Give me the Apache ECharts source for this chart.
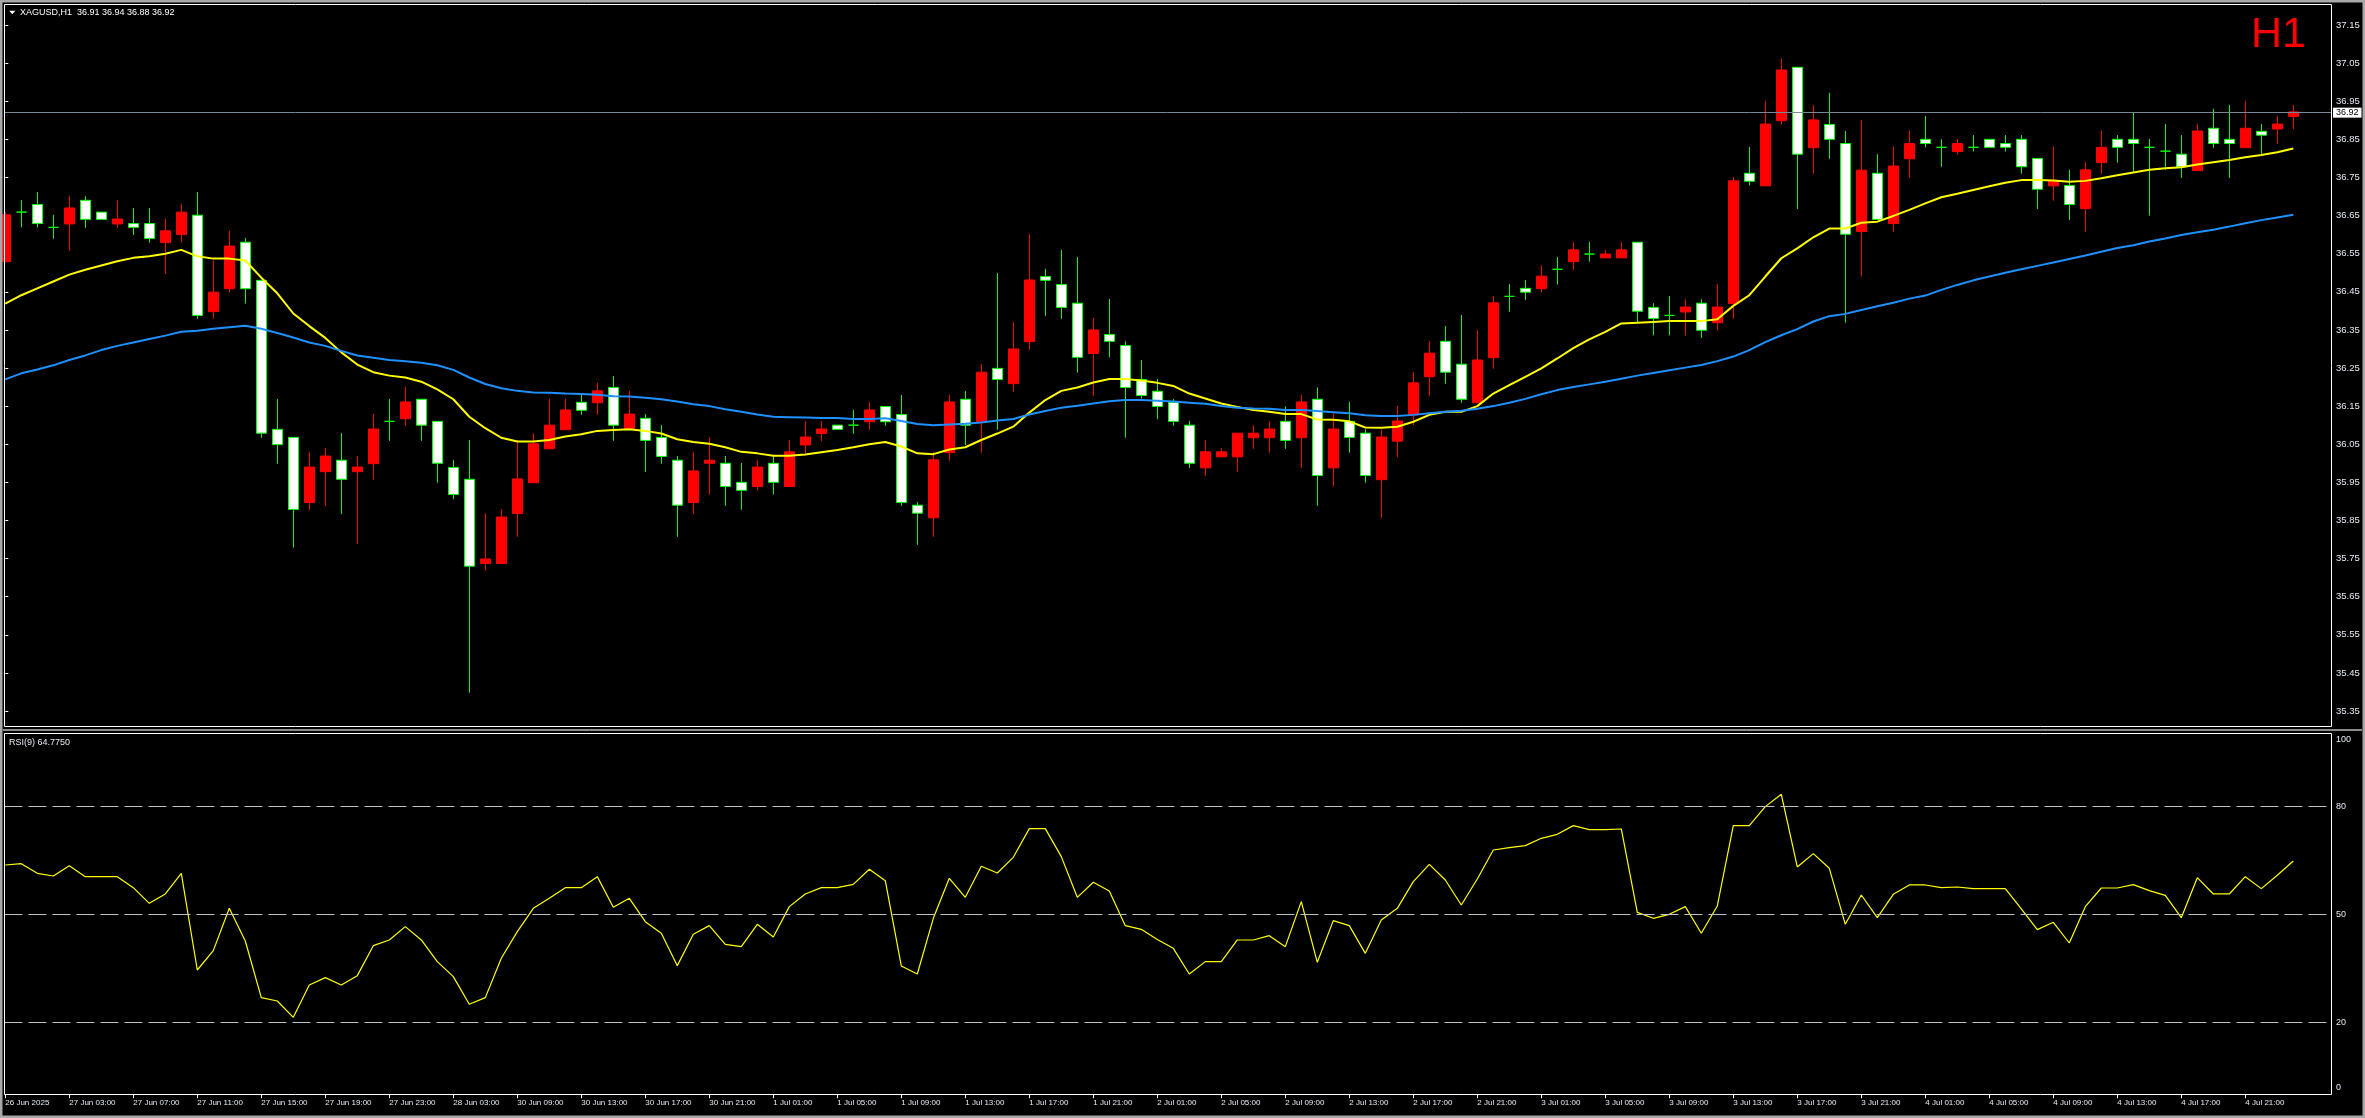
<!DOCTYPE html>
<html><head><meta charset="utf-8">
<script src="https://cdn.jsdelivr.net/npm/echarts@6/dist/echarts.min.js"></script>
<style>html,body{margin:0;padding:0;background:#000;overflow:hidden}#c{width:2365px;height:1118px}</style>
</head><body><div id="c"></div>
<script>
const symbolName = 'XAGUSD,H1';
const timeframeLabel = 'H1';
const rsiName = 'RSI(9)';

const tickLabels = ['26 Jun 2025','27 Jun 03:00','27 Jun 07:00','27 Jun 11:00','27 Jun 15:00','27 Jun 19:00','27 Jun 23:00','28 Jun 03:00','30 Jun 09:00','30 Jun 13:00','30 Jun 17:00','30 Jun 21:00','1 Jul 01:00','1 Jul 05:00','1 Jul 09:00','1 Jul 13:00','1 Jul 17:00','1 Jul 21:00','2 Jul 01:00','2 Jul 05:00','2 Jul 09:00','2 Jul 13:00','2 Jul 17:00','2 Jul 21:00','3 Jul 01:00','3 Jul 05:00','3 Jul 09:00','3 Jul 13:00','3 Jul 17:00','3 Jul 21:00','4 Jul 01:00','4 Jul 05:00','4 Jul 09:00','4 Jul 13:00','4 Jul 17:00','4 Jul 21:00'];
const tickEvery = 4;

const opens = [36.529,36.659,36.679,36.619,36.628,36.690,36.659,36.628,36.629,36.629,
 36.579,36.600,36.651,36.398,36.458,36.580,36.480,36.089,36.068,35.897,
 35.978,36.008,35.978,35.999,36.110,36.117,36.168,36.110,35.989,35.958,
 35.737,35.737,35.868,35.949,36.038,36.088,36.160,36.159,36.199,36.089,
 36.118,36.068,36.008,35.897,36.000,36.000,35.950,35.939,36.000,35.939,
 36.048,36.078,36.100,36.100,36.109,36.149,36.128,35.890,35.857,36.028,
 36.168,36.109,36.249,36.209,36.319,36.490,36.469,36.420,36.288,36.338,
 36.309,36.220,36.189,36.160,36.100,35.988,36.017,36.017,36.067,36.067,
 36.110,36.067,36.168,35.988,36.110,36.079,35.957,36.058,36.127,36.227,
 36.320,36.260,36.159,36.277,36.438,36.459,36.458,36.509,36.529,36.549,
 36.539,36.539,36.580,36.409,36.388,36.397,36.420,36.369,36.419,36.761,
 36.728,36.899,37.039,36.828,36.889,36.839,36.608,36.761,36.629,36.799,
 36.850,36.829,36.818,36.829,36.850,36.839,36.850,36.800,36.728,36.729,
 36.668,36.789,36.850,36.850,36.829,36.819,36.811,36.768,36.879,36.850,
 36.828,36.871,36.877,36.910];
const highs = [36.659,36.690,36.712,36.652,36.701,36.701,36.659,36.690,36.670,36.670,
 36.641,36.680,36.712,36.532,36.610,36.591,36.480,36.169,36.068,36.030,
 36.040,36.079,36.019,36.129,36.169,36.200,36.168,36.110,36.008,36.061,
 35.869,35.880,36.061,36.079,36.169,36.169,36.179,36.211,36.229,36.190,
 36.129,36.100,36.019,36.030,36.069,36.019,36.001,36.008,36.019,36.061,
 36.111,36.111,36.100,36.140,36.161,36.149,36.179,35.898,36.029,36.179,
 36.190,36.260,36.499,36.371,36.602,36.510,36.560,36.541,36.381,36.431,
 36.320,36.271,36.221,36.169,36.111,36.061,36.040,36.079,36.100,36.111,
 36.149,36.179,36.199,36.131,36.161,36.089,36.089,36.150,36.239,36.321,
 36.360,36.389,36.350,36.439,36.470,36.481,36.520,36.541,36.581,36.581,
 36.560,36.581,36.580,36.420,36.439,36.430,36.430,36.470,36.751,36.830,
 36.951,37.061,37.039,36.940,36.972,36.872,36.901,36.811,36.830,36.872,
 36.911,36.850,36.851,36.861,36.850,36.861,36.861,36.800,36.830,36.770,
 36.791,36.872,36.861,36.921,36.851,36.890,36.861,36.890,36.930,36.940,
 36.951,36.890,36.911,36.940];
const lows = [36.527,36.619,36.619,36.589,36.557,36.618,36.640,36.618,36.599,36.579,
 36.497,36.579,36.379,36.379,36.448,36.419,36.067,35.999,35.779,35.878,
 35.889,35.867,35.788,35.957,36.059,36.099,36.059,35.949,35.906,35.398,
 35.718,35.737,35.807,35.949,36.038,36.088,36.127,36.127,36.059,36.089,
 35.977,35.999,35.807,35.868,35.917,35.889,35.878,35.928,35.918,35.939,
 36.026,36.058,36.089,36.078,36.088,36.099,35.889,35.786,35.807,36.007,
 36.048,36.028,36.088,36.188,36.298,36.387,36.379,36.238,36.177,36.278,
 36.067,36.170,36.116,36.099,35.988,35.967,36.017,35.978,36.038,36.028,
 36.038,35.988,35.889,35.939,36.028,35.949,35.857,36.016,36.100,36.176,
 36.209,36.159,36.159,36.248,36.398,36.429,36.448,36.469,36.507,36.529,
 36.539,36.539,36.369,36.336,36.336,36.336,36.329,36.348,36.379,36.729,
 36.728,36.888,36.667,36.760,36.799,36.369,36.490,36.640,36.608,36.749,
 36.829,36.778,36.809,36.818,36.829,36.818,36.760,36.667,36.689,36.638,
 36.608,36.759,36.789,36.765,36.650,36.770,36.749,36.768,36.828,36.749,
 36.828,36.809,36.839,36.877];
const closes = [36.652,36.659,36.629,36.619,36.670,36.640,36.640,36.641,36.619,36.590,
 36.610,36.659,36.388,36.449,36.570,36.458,36.079,36.049,35.879,35.990,
 36.019,35.958,35.990,36.090,36.110,36.161,36.100,36.000,35.918,35.730,
 35.749,35.859,35.959,36.051,36.100,36.140,36.139,36.190,36.100,36.129,
 36.060,36.018,35.890,35.980,36.008,35.939,35.929,35.990,35.950,36.030,
 36.069,36.090,36.089,36.100,36.140,36.109,35.897,35.869,36.009,36.161,
 36.100,36.239,36.220,36.300,36.481,36.480,36.409,36.278,36.350,36.320,
 36.199,36.178,36.149,36.110,36.000,36.030,36.030,36.079,36.079,36.090,
 36.060,36.161,35.968,36.090,36.068,35.968,36.069,36.111,36.211,36.289,
 36.239,36.168,36.271,36.421,36.438,36.449,36.491,36.509,36.560,36.549,
 36.549,36.560,36.399,36.380,36.388,36.410,36.349,36.410,36.741,36.740,
 36.890,37.032,36.811,36.901,36.850,36.601,36.769,36.640,36.780,36.839,
 36.839,36.829,36.839,36.829,36.829,36.829,36.778,36.719,36.742,36.679,
 36.770,36.829,36.829,36.839,36.829,36.819,36.778,36.872,36.839,36.839,
 36.879,36.861,36.890,36.922];

const maFast = [36.419,36.441,36.459,36.477,36.495,36.508,36.519,36.530,36.539,36.543,
 36.550,36.560,36.543,36.537,36.537,36.532,36.487,36.446,36.393,36.360,
 36.329,36.291,36.259,36.239,36.230,36.225,36.214,36.194,36.168,36.122,
 36.092,36.067,36.057,36.057,36.061,36.070,36.076,36.085,36.087,36.089,
 36.085,36.078,36.063,36.056,36.051,36.042,36.030,36.026,36.020,36.020,
 36.023,36.029,36.035,36.042,36.050,36.056,36.044,36.026,36.024,36.036,
 36.042,36.061,36.078,36.096,36.133,36.166,36.190,36.199,36.212,36.221,
 36.221,36.217,36.211,36.203,36.183,36.170,36.157,36.148,36.140,36.135,
 36.129,36.129,36.115,36.114,36.110,36.094,36.093,36.096,36.109,36.127,
 36.135,36.135,36.150,36.183,36.205,36.227,36.249,36.275,36.302,36.325,
 36.345,36.367,36.369,36.371,36.373,36.373,36.373,36.378,36.413,36.441,
 36.490,36.538,36.564,36.593,36.616,36.616,36.631,36.634,36.649,36.665,
 36.682,36.698,36.707,36.717,36.727,36.736,36.743,36.743,36.742,36.739,
 36.741,36.748,36.756,36.763,36.770,36.774,36.777,36.784,36.790,36.796,
 36.803,36.809,36.816,36.826];
const maSlow = [36.220,36.236,36.246,36.257,36.271,36.283,36.297,36.308,36.317,36.326,
 36.335,36.345,36.348,36.353,36.357,36.361,36.353,36.342,36.330,36.317,
 36.308,36.295,36.283,36.277,36.271,36.268,36.264,36.257,36.245,36.225,
 36.208,36.197,36.190,36.186,36.185,36.183,36.182,36.180,36.176,36.175,
 36.172,36.168,36.162,36.155,36.150,36.142,36.135,36.128,36.122,36.121,
 36.120,36.119,36.119,36.116,36.116,36.118,36.111,36.103,36.100,36.102,
 36.104,36.107,36.112,36.116,36.128,36.137,36.146,36.151,36.157,36.163,
 36.166,36.166,36.164,36.162,36.159,36.156,36.150,36.146,36.144,36.143,
 36.140,36.140,36.137,36.134,36.131,36.126,36.124,36.124,36.127,36.131,
 36.135,36.138,36.143,36.150,36.159,36.169,36.181,36.192,36.200,36.207,
 36.214,36.222,36.230,36.237,36.244,36.251,36.258,36.268,36.280,36.297,
 36.318,36.336,36.352,36.372,36.386,36.392,36.402,36.412,36.421,36.432,
 36.440,36.455,36.468,36.480,36.490,36.500,36.509,36.518,36.527,36.536,
 36.545,36.555,36.565,36.572,36.582,36.590,36.599,36.606,36.613,36.621,
 36.630,36.638,36.645,36.652];
const rsiValues = [63.67,64.04,61.36,60.62,63.49,60.43,60.43,60.43,57.38,53.02,
 55.62,61.36,34.50,39.88,51.63,42.56,26.82,25.89,21.36,30.34,
 32.37,30.34,32.93,41.26,42.84,46.54,42.84,36.82,32.65,24.97,
 26.82,37.75,45.15,51.63,54.41,57.38,57.38,60.43,51.91,54.41,
 47.93,44.69,35.71,44.41,46.82,41.63,40.99,47.19,43.67,52.10,
 55.62,57.38,57.38,58.30,62.47,59.32,35.62,33.39,48.86,59.97,
 54.69,63.30,61.45,65.80,73.76,73.76,65.99,54.69,58.86,56.45,
 46.82,45.80,43.00,40.52,33.39,36.82,36.82,42.84,42.84,44.04,
 40.99,53.49,36.63,48.21,46.82,39.13,48.39,51.63,59.04,63.86,
 59.50,52.56,59.78,67.84,68.49,69.04,71.08,72.19,74.60,73.49,
 73.49,73.67,50.52,48.86,49.97,52.10,44.69,52.28,74.60,74.60,
 79.88,83.30,63.12,66.82,62.75,47.19,55.34,49.04,55.52,58.12,
 58.12,57.38,57.56,57.10,57.10,57.10,51.45,45.71,47.75,42.00,
 52.10,57.28,57.28,58.21,56.54,55.25,49.04,60.15,55.62,55.62,
 60.43,57.10,60.80,64.775];

const priceTicks = [35.35,35.45,35.55,35.65,35.75,35.85,35.95,36.05,36.15,36.25,36.35,36.45,36.55,36.65,36.75,36.85,36.95,37.05,37.15];
const rsiTicks = [20,50,80];
const rsiLevels = [20,50,80];
const rsiEdgeLabels = ['100','0'];

// ---- layout (pixels) ----
const PLOT_L = 4.5, PLOT_R = 2331, BAR_STEP = 16, FIRST_BAR_X = 5.3;
const X_MIN = -(FIRST_BAR_X - PLOT_L) / BAR_STEP;
const X_MAX = X_MIN + (PLOT_R - PLOT_L) / BAR_STEP;
const MAIN_TOP = 4.5, MAIN_H = 722, PX_PER_UNIT = 381.11, Y_REF = 37.15, Y_REF_PX = 25;
const Y_MAX = Y_REF + (Y_REF_PX - MAIN_TOP) / PX_PER_UNIT;
const Y_MIN = Y_MAX - MAIN_H / PX_PER_UNIT;
const RSI_TOP = 734.2, RSI_H = 360;

const FONT = 'Liberation Sans, Arial, sans-serif';
const LABEL_COLOR = '#e4eaf4';
const n = closes.length;
const last = n - 1;

const candleData = opens.map((o, i) => {
  const item = { value: [i, o, closes[i], lows[i], highs[i]] };
  if (o === closes[i]) item.itemStyle = { color: '#00ff00', color0: '#00ff00', borderColor: '#00ff00', borderColor0: '#00ff00' };
  return item;
});
const tickPositions = tickLabels.map((_, k) => k * tickEvery);

const chart = echarts.init(document.getElementById('c'), null, { renderer: 'canvas' });
chart.setOption({
  backgroundColor: '#000000',
  animation: false,
  grid: [
    { left: PLOT_L, top: MAIN_TOP, width: PLOT_R - PLOT_L, height: MAIN_H },
    { left: PLOT_L, top: RSI_TOP, width: PLOT_R - PLOT_L, height: RSI_H }
  ],
  xAxis: [
    { gridIndex: 0, type: 'value', min: X_MIN, max: X_MAX, show: false },
    { gridIndex: 1, type: 'value', min: X_MIN, max: X_MAX,
      axisLine: { show: false }, splitLine: { show: false },
      axisTick: { show: true, customValues: tickPositions, length: 4, lineStyle: { color: '#ffffff' } },
      axisLabel: { customValues: tickPositions, formatter: v => tickLabels[Math.round(v / tickEvery)] || '',
        align: 'left', margin: 5, color: LABEL_COLOR, fontSize: 8, fontFamily: FONT } }
  ],
  yAxis: [
    { gridIndex: 0, type: 'value', position: 'right', min: Y_MIN, max: Y_MAX,
      splitLine: { show: false }, axisLine: { show: false },
      axisTick: { show: true, customValues: priceTicks, length: 3, lineStyle: { color: '#ffffff' } },
      axisLabel: { customValues: priceTicks, formatter: v => v.toFixed(2), margin: 5,
        color: LABEL_COLOR, fontSize: 9.5, fontFamily: FONT } },
    { gridIndex: 1, type: 'value', position: 'right', min: 0, max: 100,
      splitLine: { show: false }, axisLine: { show: false },
      axisTick: { show: true, customValues: rsiTicks, length: 3, lineStyle: { color: '#ffffff' } },
      axisLabel: { customValues: rsiTicks, formatter: v => String(v), margin: 5,
        color: LABEL_COLOR, fontSize: 9, fontFamily: FONT } }
  ],
  series: [
    { type: 'candlestick', name: symbolName, xAxisIndex: 0, yAxisIndex: 0,
      data: candleData, encode: { x: 0, y: [1, 2, 3, 4] },
      barWidth: 10, clip: true,
      itemStyle: { color: '#ff0000', color0: '#ffffff', borderColor: '#ff0000', borderColor0: '#00ff00', borderWidth: 1 },
      markLine: { silent: true, symbol: ['none', 'none'], animation: false,
        lineStyle: { color: '#778899', width: 1, type: 'solid' },
        label: { show: true, position: 'end', distance: 2, formatter: closes[last].toFixed(2),
          backgroundColor: '#ffffff', color: '#000000', padding: [1, 3, 0, 3], fontSize: 9, fontFamily: FONT },
        data: [{ yAxis: closes[last] }] } },
    { type: 'line', name: 'MA fast', xAxisIndex: 0, yAxisIndex: 0, data: maFast.map((v, i) => [i, v]),
      symbol: 'none', clip: true, lineStyle: { color: '#ffff00', width: 2 } },
    { type: 'line', name: 'MA slow', xAxisIndex: 0, yAxisIndex: 0, data: maSlow.map((v, i) => [i, v]),
      symbol: 'none', clip: true, lineStyle: { color: '#1e90ff', width: 2 } },
    { type: 'line', name: rsiName, xAxisIndex: 1, yAxisIndex: 1, data: rsiValues.map((v, i) => [i, v]),
      symbol: 'none', clip: true, lineStyle: { color: '#ffff00', width: 1.2 },
      markLine: { silent: true, symbol: ['none', 'none'], animation: false,
        lineStyle: { color: '#c0c0c0', width: 1, type: [18, 6] }, label: { show: false },
        data: rsiLevels.map(v => ({ yAxis: v })) } }
  ],
  graphic: [
    { type: 'rect', silent: true, shape: { x: 0, y: 0, width: 2365, height: 1118 }, style: { fill: 'none', stroke: '#a8a8a8', lineWidth: 5 }, z: 100 },
    { type: 'rect', silent: true, shape: { x: 4.5, y: 4.5, width: 2327, height: 722 }, style: { fill: 'none', stroke: '#ffffff', lineWidth: 1 }, z: 100 },
    { type: 'line', silent: true, shape: { x1: 2.5, y1: 730, x2: 2362, y2: 730 }, style: { stroke: '#8a8a8a', lineWidth: 2 }, z: 100 },
    { type: 'rect', silent: true, shape: { x: 4.5, y: 733.5, width: 2327, height: 361 }, style: { fill: 'none', stroke: '#ffffff', lineWidth: 1 }, z: 100 },
    { type: 'polygon', silent: true, shape: { points: [[9.3, 10.8], [15.3, 10.8], [12.3, 14.3]] }, style: { fill: '#ffffff' }, z: 100 },
    { type: 'text', silent: true, x: 20, y: 13, z: 100,
      style: { text: symbolName + '  ' + [opens[last], highs[last], lows[last], closes[last]].map(v => v.toFixed(2)).join(' '),
        fill: '#ffffff', fontSize: 9, fontFamily: FONT, align: 'left', verticalAlign: 'middle' } },
    { type: 'text', silent: true, x: 2306, y: 35, z: 100,
      style: { text: timeframeLabel, fill: '#ff0000', fontSize: 43, fontFamily: FONT, align: 'right', verticalAlign: 'middle' } },
    { type: 'text', silent: true, x: 9, y: 743, z: 100,
      style: { text: rsiName + ' ' + rsiValues[last].toFixed(4), fill: LABEL_COLOR, fontSize: 9, fontFamily: FONT, align: 'left', verticalAlign: 'middle' } },
    { type: 'text', silent: true, x: 2336, y: 740, z: 100,
      style: { text: rsiEdgeLabels[0], fill: LABEL_COLOR, fontSize: 9, fontFamily: FONT, align: 'left', verticalAlign: 'middle' } },
    { type: 'text', silent: true, x: 2336, y: 1088, z: 100,
      style: { text: rsiEdgeLabels[1], fill: LABEL_COLOR, fontSize: 9, fontFamily: FONT, align: 'left', verticalAlign: 'middle' } }
  ]
});
</script>
</body></html>
